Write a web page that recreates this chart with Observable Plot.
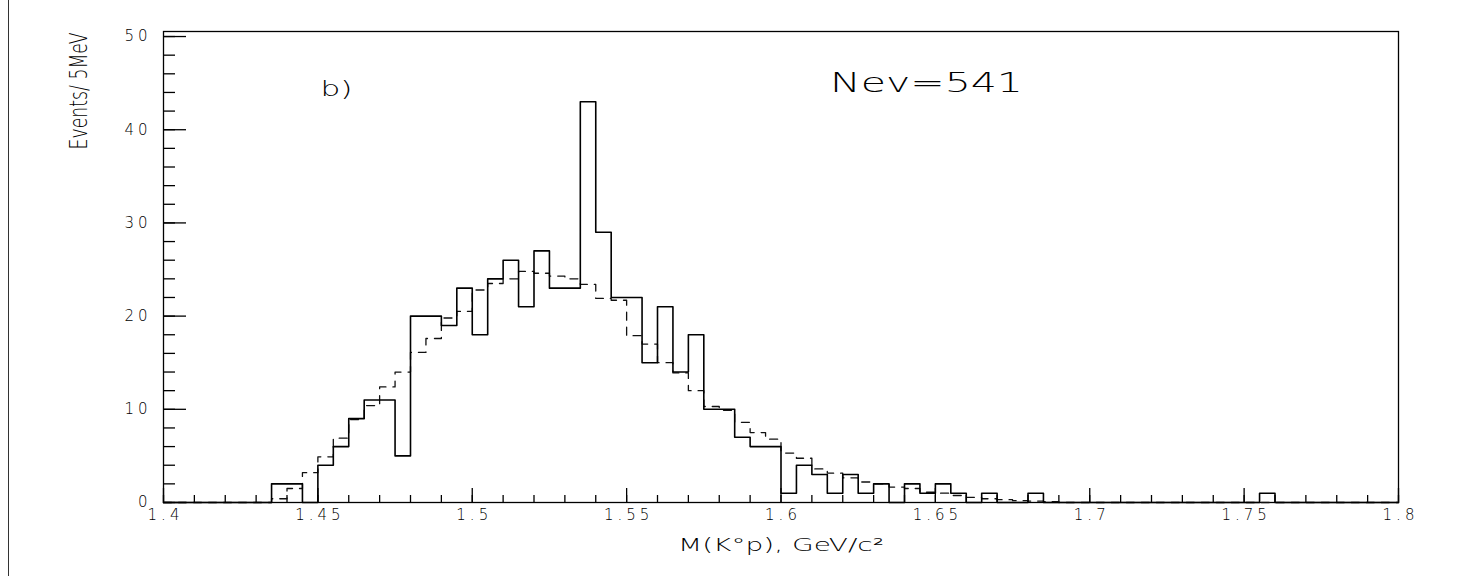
<!DOCTYPE html>
<html>
<head>
<meta charset="utf-8">
<script src="https://cdn.jsdelivr.net/npm/d3@7"></script>
<script src="https://cdn.jsdelivr.net/npm/@observablehq/plot@0.6"></script>
<style>
  html, body { margin: 0; padding: 0; background: #fff; }
  #wrap { position: relative; width: 1459px; height: 576px; }
  #border { position: absolute; left: 8px; top: 0; width: 1px; height: 576px; background: #333; }
</style>
</head>
<body>
<div id="wrap"><div id="border"></div></div>
<script>
// Bin lower edges (5 MeV bins from 1.400 to 1.795 GeV)
const binLow = d3.range(80).map(i => +(1.4 + i * 0.005).toFixed(3));
const binHigh = 1.8;

// Solid histogram: observed events per bin
const observed = [
  0, 0, 0, 0, 0, 0, 0, 2, 2, 0,
  4, 6, 9, 11, 11, 5, 20, 20, 19, 23,
  18, 24, 26, 21, 27, 23, 23, 43, 29, 22,
  22, 15, 21, 14, 18, 10, 10, 7, 6, 6,
  1, 4, 3, 1, 3, 1, 2, 0, 2, 1,
  2, 1, 0, 1, 0, 0, 1, 0, 0, 0,
  0, 0, 0, 0, 0, 0, 0, 0, 0, 0,
  0, 1, 0, 0, 0, 0, 0, 0, 0, 0
];

// Dashed histogram: background estimate per bin
const background = [
  0, 0, 0, 0, 0, 0, 0, 0.4, 1.5, 3.2,
  4.9, 6.9, 8.9, 10.4, 12.4, 14.0, 16.1, 17.6, 19.8, 20.5,
  22.8, 23.5, 24.0, 24.8, 24.6, 24.3, 24.0, 23.4, 21.9, 21.7,
  17.9, 17.0, 15.0, 13.9, 12.0, 10.3, 9.9, 8.6, 7.5, 6.8,
  5.3, 4.75, 3.6, 3.15, 2.65, 2.2, 2.0, 1.65, 1.5, 1.1,
  1.0, 0.75, 0.55, 0.4, 0.3, 0.2, 0.15, 0.1, 0, 0,
  0, 0, 0, 0, 0, 0, 0, 0, 0, 0,
  0, 0, 0, 0, 0, 0, 0, 0, 0, 0
];

const xMajor = [1.4, 1.45, 1.5, 1.55, 1.6, 1.65, 1.7, 1.75, 1.8];
const xMinor = d3.range(41).map(i => +(1.4 + i * 0.01).toFixed(2));
const yMajor = [0, 10, 20, 30, 40, 50];
const yMinor = d3.range(26).map(i => i * 2);

const xTitle = "M(K\u00B0p), GeV/c\u00B2";
const yTitle = "Events/ 5MeV";
const panelLabel = "b)";
const nevLabel = "Nev=541";

function steps(values) {
  const pts = binLow.map((x, i) => ({x, y: values[i]}));
  pts.push({x: binHigh, y: values[values.length - 1]});
  return pts;
}

const font = "DejaVu Sans";
const chart = Plot.plot({
  width: 1459,
  height: 576,
  marginLeft: 163,
  marginRight: 61,
  marginTop: 31,
  marginBottom: 74,
  style: {fontFamily: font, background: "transparent", overflow: "visible"},
  x: {domain: [1.4, 1.8]},
  y: {domain: [0, 50.54]},
  marks: [
    Plot.frame({stroke: "#000", strokeWidth: 1.3}),
    Plot.axisX(xMinor, {tickSize: -7, tickFormat: () => "", label: null, strokeWidth: 1.3}),
    Plot.axisX(xMajor, {tickSize: -14, tickFormat: () => "", label: null, strokeWidth: 1.3}),
    Plot.axisX(xMajor, {tickSize: 0, tickPadding: 7, label: null, fontSize: 15, fontWeight: 200,
      tickFormat: d => String(+d.toFixed(2))}),
    Plot.axisY(yMinor, {tickSize: -12, tickFormat: () => "", label: null, strokeWidth: 1.3}),
    Plot.axisY(yMajor, {tickSize: -23, tickFormat: () => "", label: null, strokeWidth: 1.3}),
    Plot.axisY(yMajor, {tickSize: 0, tickPadding: 12, label: null, fontSize: 15, fontWeight: 200}),
    Plot.line(steps(background), {x: "x", y: "y", curve: "step-after", stroke: "#111",
      strokeWidth: 1.3, strokeDasharray: "8,7"}),
    Plot.line(steps(observed), {x: "x", y: "y", curve: "step-after", stroke: "#000",
      strokeWidth: 1.6}),
    Plot.text([xTitle], {frameAnchor: "bottom", lineAnchor: "middle", textAnchor: "middle", dy: 43,
      fontSize: 17, fontWeight: 200, fill: "#000"}),
    Plot.text([panelLabel], {frameAnchor: "top-left", lineAnchor: "middle", textAnchor: "middle",
      dx: 173, dy: 57, fontSize: 22, fontWeight: 200, fill: "#000"}),
    Plot.text([nevLabel], {frameAnchor: "top-left", lineAnchor: "middle", textAnchor: "middle",
      dx: 763, dy: 52, fontSize: 27, fontWeight: 200, fill: "#000"})
  ]
});

const svg = d3.select(chart);
svg.selectAll("text").each(function() {
  const t = d3.select(this);
  const s = this.textContent;
  if (s === xTitle) t.attr("textLength", 206).attr("lengthAdjust", "spacingAndGlyphs");
  else if (s === panelLabel) t.attr("textLength", 32).attr("lengthAdjust", "spacingAndGlyphs");
  else if (s === nevLabel) t.attr("textLength", 193).attr("lengthAdjust", "spacingAndGlyphs");
});
svg.selectAll('[aria-label="x-axis tick label"] text, [aria-label="y-axis tick label"] text')
  .attr("letter-spacing", 4);
svg.selectAll('[aria-label="x-axis tick label"] text').attr("dx", 2);

// Rotated y-axis title
svg.append("text")
  .attr("transform", "translate(79,91) rotate(-90)")
  .attr("text-anchor", "middle")
  .attr("dy", "0.35em")
  .attr("font-family", font)
  .attr("font-weight", 200)
  .attr("font-size", 24)
  .attr("fill", "#000")
  .attr("textLength", 117)
  .attr("lengthAdjust", "spacingAndGlyphs")
  .text(yTitle);

document.getElementById("wrap").appendChild(chart);
chart.style.position = "absolute";
chart.style.left = "0";
chart.style.top = "0";
</script>
</body>
</html>
